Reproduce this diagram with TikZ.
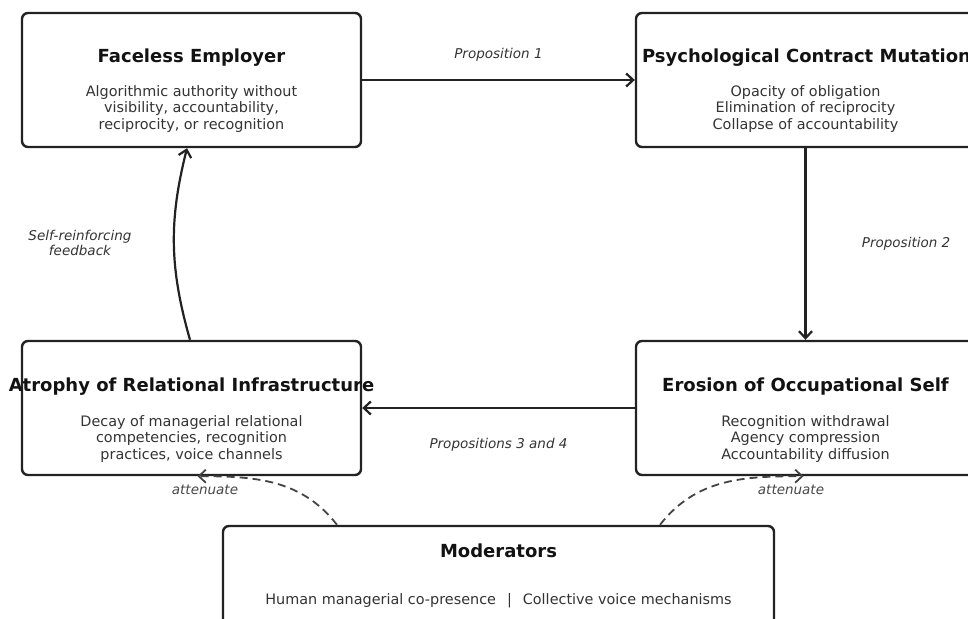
\documentclass[tikz,border=0pt]{standalone}
\usepackage{fontspec}
\setmainfont{DejaVu Sans}
\usetikzlibrary{arrows.meta,positioning}

\definecolor{edgegray}{HTML}{222222}
\definecolor{textgray}{HTML}{333333}

\begin{document}
\begin{tikzpicture}[x=1pt, y=1pt,
  >={Straight Barb[length=7pt,width=13pt]},
  box/.style={draw=edgegray, line width=2.4pt, rounded corners=6pt,
              minimum width=339pt, minimum height=134pt},
  head/.style={font=\fontsize{18}{21}\selectfont\bfseries, text=black!93},
  desc/.style={font=\fontsize{14.4}{16.5}\selectfont, text=textgray, align=center},
  lab/.style={font=\fontsize{13.5}{15}\selectfont\itshape, text=textgray, align=center},
  flow/.style={->, line width=2.2pt, edgegray},
  damp/.style={->, line width=1.8pt, draw=edgegray!85, dash pattern=on 8pt off 5pt}]

  \clip (0,0) rectangle (968,-618);

  % four stages
  \node[box]  (fe)   at (191.5,-80) {};
  \node[head] (fe-t) at (191.5,-58) {Faceless Employer};
  \node[desc] (fe-d) at (191.5,-109) {Algorithmic authority without\\visibility, accountability,\\reciprocity, or recognition};

  \node[box]  (pcm)   at (805.5,-80) {};
  \node[head] (pcm-t) at (806.5,-58) {Psychological Contract Mutation};
  \node[desc] (pcm-d) at (805.5,-109) {Opacity of obligation\\Elimination of reciprocity\\Collapse of accountability};

  \node[box]  (ero)   at (805.5,-408) {};
  \node[head] (ero-t) at (805.5,-387) {Erosion of Occupational Self};
  \node[desc] (ero-d) at (805.5,-439) {Recognition withdrawal\\Agency compression\\Accountability diffusion};

  \node[box]  (atro)   at (191.5,-408) {};
  \node[head] (atro-t) at (191.5,-387) {Atrophy of Relational Infrastructure};
  \node[desc] (atro-d) at (191.5,-439) {Decay of managerial relational\\competencies, recognition\\practices, voice channels};

  % moderators
  \node[box, minimum width=551pt] (modr) at (498.5,-593) {};
  \node[head] (modr-t) at (498.5,-551) {Moderators};
  \node[desc] (modr-d) at (498.5,-601) {Human managerial co-presence\hspace{11pt}|\hspace{11pt}Collective voice mechanisms};

  \path[flow]
  (fe)   edge node [lab, above=14pt] (p1) {Proposition 1} (pcm)
  (pcm)  edge node [lab, right=52pt] (p2) {Proposition 2} (ero)
  (ero)  edge node [lab, below=26pt] (p34) {Propositions 3 and 4} (atro)
  ([xshift=-1.5pt]atro.north) edge [bend left=15] ([xshift=-4.5pt]fe.south)
  ;
  \node[lab] (loop) at (80,-243) {Self-reinforcing\\feedback};

  \draw[damp] ([xshift=-161.5pt]modr.north) to[out=128, in=0] ([xshift=6pt]atro.south);
  \draw[damp] ([xshift=161.5pt]modr.north) to[out=52, in=180] ([xshift=-2pt]ero.south);
  \node[lab, text=textgray!90] (att1) at (205,-490) {attenuate};
  \node[lab, text=textgray!90] (att2) at (791,-490) {attenuate};
\end{tikzpicture}
\end{document}
